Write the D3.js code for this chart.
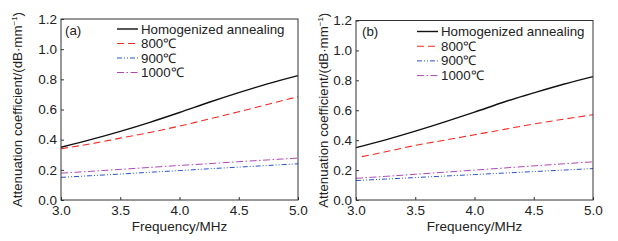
<!DOCTYPE html>
<html>
<head>
<meta charset="utf-8">
<script src="https://cdn.jsdelivr.net/npm/d3@7"></script>
<style>
  body { margin: 0; background: #fff; }
  svg text { font-family: "Liberation Sans", Arial, sans-serif; fill: #222; }
</style>
</head>
<body>
<div id="chart"></div>
<script>
// frequency grid (MHz)
const freq = [3.0, 3.25, 3.5, 3.75, 4.0, 4.25, 4.5, 4.75, 5.0];
const freq800b = [3.05, 3.25, 3.5, 3.75, 4.0, 4.25, 4.5, 4.75, 5.0];

// panel (a)
const homA  = [0.35, 0.40, 0.455, 0.515, 0.58, 0.648, 0.712, 0.772, 0.825];
const c800A = [0.34, 0.372, 0.41, 0.448, 0.49, 0.537, 0.585, 0.635, 0.685];
const c900A = [0.15, 0.161, 0.172, 0.184, 0.195, 0.207, 0.218, 0.229, 0.24];
const c1000A = [0.178, 0.19, 0.203, 0.216, 0.229, 0.241, 0.254, 0.266, 0.278];

// panel (b)
const homB  = [0.35, 0.402, 0.46, 0.522, 0.587, 0.655, 0.716, 0.774, 0.825];
const c800B = [0.29, 0.322, 0.365, 0.40, 0.436, 0.472, 0.508, 0.54, 0.57];
const c900B = [0.13, 0.14, 0.15, 0.16, 0.17, 0.18, 0.19, 0.2, 0.21];
const c1000B = [0.145, 0.158, 0.172, 0.186, 0.2, 0.214, 0.228, 0.242, 0.255];

const legendNames = ["Homogenized annealing", "800\u2103", "900\u2103", "1000\u2103"];
const xTicks = [3.0, 3.5, 4.0, 4.5, 5.0];
const yTicks = [0.0, 0.2, 0.4, 0.6, 0.8, 1.0, 1.2];

const styles = [
    { color: "#111", width: 1.4, dash: null },
    { color: "#f22a26", width: 1.1, dash: "7,4" },
    { color: "#2a52c8", width: 1.0, dash: "5,2,1,2,1,2" },
    { color: "#b048b4", width: 1.0, dash: "7,2.5,1.5,2.5" }
];

const panels = [
    { label: "(a)", left: 61, right: 298, top: 19, bottom: 200, titleX: 17,
      legX: 56, legY: 29, legStep: 14.5, labX: 4, labY: 35,
      series: [[freq, homA], [freq, c800A], [freq, c900A], [freq, c1000A]] },
    { label: "(b)", left: 356, right: 593, top: 20.5, bottom: 200, titleX: 323,
      legX: 61, legY: 31.5, legStep: 14.7, labX: 6, labY: 36,
      series: [[freq, homB], [freq800b, c800B], [freq, c900B], [freq, c1000B]] }
];

const svg = d3.select("#chart").append("svg")
    .attr("width", 618)
    .attr("height", 241);

panels.forEach(p => {
    let x = d3.scaleLinear().domain([3, 5]).range([p.left, p.right]);
    let y = d3.scaleLinear().domain([0, 1.2]).range([p.bottom, p.top]);

    let g = svg.append("g");

    // lines
    let line = d3.line()
        .x(d => x(d[0]))
        .y(d => y(d[1]))
        .curve(d3.curveMonotoneX);

    p.series.forEach((s, i) => {
        let pts = s[0].map((f, j) => [f, s[1][j]]);
        g.append("path")
            .datum(pts)
            .attr("d", line)
            .attr("fill", "none")
            .attr("stroke", styles[i].color)
            .attr("stroke-width", styles[i].width)
            .attr("stroke-dasharray", styles[i].dash);
    });

    // axes (ticks inside)
    let xAxis = g.append("g")
        .attr("transform", `translate(0,${p.bottom})`)
        .call(d3.axisBottom(x).tickValues(xTicks).tickFormat(d3.format(".1f"))
            .tickSizeInner(-3).tickSizeOuter(0).tickPadding(5));
    let yAxis = g.append("g")
        .attr("transform", `translate(${p.left},0)`)
        .call(d3.axisLeft(y).tickValues(yTicks).tickFormat(d3.format(".1f"))
            .tickSizeInner(-3).tickSizeOuter(0).tickPadding(4));
    [xAxis, yAxis].forEach(a => {
        a.select(".domain").remove();
        a.selectAll("line").attr("stroke", "#333");
        a.selectAll("text").attr("font-size", 13.5)
            .attr("font-family", "Liberation Sans, Arial, sans-serif")
            .attr("fill", "#222");
    });

    // frame
    g.append("rect")
        .attr("x", p.left)
        .attr("y", p.top)
        .attr("width", p.right - p.left)
        .attr("height", p.bottom - p.top)
        .attr("fill", "none")
        .attr("stroke", "#333")
        .attr("stroke-width", 1);

    // axis titles
    g.append("text")
        .attr("x", (p.left + p.right) / 2)
        .attr("y", 231)
        .attr("text-anchor", "middle")
        .attr("font-size", 13.5)
        .text("Frequency/MHz");

    let yt = g.append("text")
        .attr("transform", `translate(${p.titleX + 5},${(p.top + p.bottom) / 2}) rotate(-90)`)
        .attr("text-anchor", "middle")
        .attr("font-size", 13.3);
    yt.append("tspan").text("Attenuation coefficient/(dB\u00b7mm");
    yt.append("tspan").attr("dy", -5).attr("font-size", 8).text("\u22121");
    yt.append("tspan").attr("dy", 5).text(")");

    // panel label
    g.append("text")
        .attr("x", p.left + p.labX)
        .attr("y", p.labY)
        .attr("font-size", 13.3)
        .text(p.label);

    // legend
    legendNames.forEach((name, i) => {
        let ly = p.legY + i * p.legStep;
        g.append("line")
            .attr("x1", p.left + p.legX)
            .attr("x2", p.left + p.legX + 21)
            .attr("y1", ly)
            .attr("y2", ly)
            .attr("stroke", styles[i].color)
            .attr("stroke-width", styles[i].width)
            .attr("stroke-dasharray", styles[i].dash);
        g.append("text")
            .attr("x", p.left + p.legX + 24)
            .attr("y", ly + 4.5)
            .attr("font-size", 13.3)
            .text(name);
    });
});
</script>
</body>
</html>
